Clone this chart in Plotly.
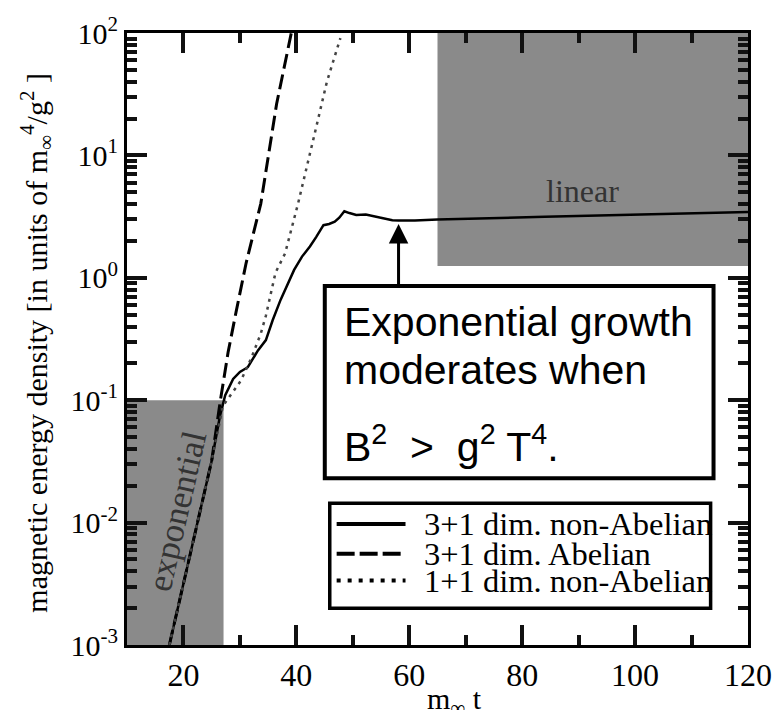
import plotly.graph_objects as go
import numpy as np

# ---- data ----
solid_x = [17.5, 20, 22.5, 25, 26.5, 27.4, 28.8, 30.0, 31.4, 33.2, 34.6, 35.8, 37.2, 38.5, 39.6,
           41.0, 42.4, 43.5, 44.8, 45.8, 46.8, 47.6, 48.5, 49.4, 50.6, 52.3, 53.5, 55.2, 57.0,
           58.1, 61, 65, 70, 76, 84, 92, 101.6, 110, 120]
solid_y = [1.0e-3, 3.2e-3, 1.0e-2, 3.2e-2, 0.0755, 0.11, 0.149, 0.17, 0.186, 0.255, 0.31, 0.45,
           0.66, 0.9, 1.16, 1.49, 1.8, 2.15, 2.69, 2.75, 2.87, 3.1, 3.5, 3.38, 3.26, 3.29, 3.2,
           3.05, 2.95, 2.94, 2.94, 2.99, 3.02, 3.08, 3.16, 3.22, 3.3, 3.37, 3.45]

abel_x = [17.5, 20, 22.5, 25, 26.5, 27.9, 29.3, 31.1, 33.7, 36.5, 39.1]
abel_y = [1.0e-3, 3.2e-3, 1.0e-2, 3.2e-2, 0.097, 0.245, 0.52, 1.32, 4.04, 26.3, 100]

dim1_x = [17.5, 20, 22.5, 25, 27.0, 29.1, 30.2, 32.0, 33.7, 34.6, 35.5, 36.3, 38.0, 40.3,
          43.1, 45.4, 47.8]
dim1_y = [1.0e-3, 3.2e-3, 1.0e-2, 3.2e-2, 0.09, 0.124, 0.145, 0.22, 0.35, 0.49, 0.76, 1.1,
          1.58, 4.04, 14.1, 39.8, 91]

series_names = ["3+1 dim. non-Abelian", "3+1 dim. Abelian", "1+1 dim. non-Abelian"]

X_RANGE = [10, 120]
Y_RANGE_LOG = [-3, 2]
y_tickvals = [1e-3, 1e-2, 1e-1, 1e0, 1e1, 1e2]
y_ticktext = ["10<sup>-3</sup>", "10<sup>-2</sup>", "10<sup>-1</sup>",
              "10<sup>0</sup>", "10<sup>1</sup>", "10<sup>2</sup>"]
y_minor = [m * 10.0 ** e for e in range(-3, 2) for m in range(2, 10)]

SERIF = "Liberation Serif, Times New Roman, serif"
SANS = "Liberation Sans, Arial, sans-serif"
TICKC = "#111111"

fig = go.Figure()

GRAY = "#8a8a8a"
fig.add_shape(type="rect", xref="x", yref="y", x0=10, x1=27.1, y0=1e-3, y1=0.1,
              fillcolor=GRAY, line=dict(width=0), layer="below")
fig.add_shape(type="rect", xref="x", yref="y", x0=65, x1=120, y0=1.25, y1=100,
              fillcolor=GRAY, line=dict(width=0), layer="below")

fig.add_trace(go.Scatter(x=solid_x, y=solid_y, mode="lines", name=series_names[0],
                         line=dict(color="black", width=2.5), showlegend=False))
fig.add_trace(go.Scatter(x=abel_x, y=abel_y, mode="lines", name=series_names[1],
                         line=dict(color="black", width=3, dash="15px,6px"), showlegend=False))
fig.add_trace(go.Scatter(x=dim1_x, y=dim1_y, mode="lines", name=series_names[2],
                         line=dict(color="#444444", width=2.5, dash="3px,5px"), showlegend=False))

# annotation box
fig.add_shape(type="rect", xref="paper", yref="paper", x0=0.3185, x1=0.9445,
              y0=0.2723, y1=0.5867, fillcolor="white", line=dict(color="black", width=4))

# legend box (drawn by hand to match the tight row spacing)
fig.add_shape(type="rect", xref="paper", yref="paper", x0=0.3265, x1=0.9398,
              y0=0.060, y1=0.2318, fillcolor="white", line=dict(color="black", width=3.5))
leg_y = [0.1977, 0.1491, 0.1053]
leg_dash = ["solid", "18px,5px", "4px,7px"]
ann = []
for name, yy, dsh in zip(series_names, leg_y, leg_dash):
    fig.add_shape(type="line", xref="paper", yref="paper", x0=0.3376, x1=0.4485,
                  y0=yy, y1=yy, line=dict(color="black", width=4, dash=dsh))
    ann.append(dict(x=0.4754, y=yy, xref="paper", yref="paper", xanchor="left",
                    yanchor="middle", text=name, showarrow=False,
                    font=dict(family=SERIF, size=32.5, color="black")))

ann.append(dict(x=58.1, y=np.log10(2.75), xref="x", yref="y", text="", showarrow=True,
                ax=0, ay=63, axref="pixel", ayref="pixel", arrowhead=2, arrowsize=1.3,
                arrowwidth=3, arrowcolor="black"))
box_lines = ["Exponential growth", "moderates when", "B<sup>2</sup>  >  g<sup>2</sup> T<sup>4</sup>."]
box_y = [0.527, 0.449, 0.329]
for t, yy in zip(box_lines, box_y):
    ann.append(dict(x=0.347, y=yy, xref="paper", yref="paper", xanchor="left",
                    yanchor="middle", text=t, showarrow=False,
                    font=dict(family=SANS, size=41, color="black")))
ann.append(dict(x=18.8, y=-1.906, xref="x", yref="y", text="exponential",
                textangle=-77, showarrow=False, font=dict(family=SERIF, size=35, color="#333333")))
ann.append(dict(x=90.7, y=np.log10(5.1), xref="x", yref="y", text="linear",
                showarrow=False, font=dict(family=SERIF, size=32, color="#333333")))
ann.append(dict(x=-0.145, y=0.494, xref="paper", yref="paper", textangle=-90,
                xanchor="center", yanchor="middle",
                text="magnetic energy density [in units of m<sub>∞</sub><sup>4</sup>/g<sup>2</sup> ]",
                showarrow=False, font=dict(family=SERIF, size=30, color="black")))
ann.append(dict(x=0.528, y=-0.058, xref="paper", yref="paper", yanchor="top",
                text="m<sub>∞</sub> t", showarrow=False,
                font=dict(family=SERIF, size=30, color="black")))

fig.update_layout(
    width=784, height=710,
    margin=dict(l=127, r=26, t=28, b=65),
    paper_bgcolor="white", plot_bgcolor="white",
    annotations=ann,
    showlegend=False,
)
fig.update_xaxes(range=X_RANGE, showgrid=False, zeroline=False,
                 showline=True, linecolor="black", linewidth=3, mirror="allticks",
                 ticks="inside", ticklen=20, tickwidth=4, tickcolor=TICKC,
                 tick0=0, dtick=20, layer="above traces",
                 minor=dict(ticks="inside", ticklen=10, tickwidth=4, tickcolor=TICKC, dtick=10),
                 tickfont=dict(family=SERIF, size=32, color="black"))
fig.update_yaxes(type="log", range=Y_RANGE_LOG, showgrid=False, zeroline=False,
                 showline=True, linecolor="black", linewidth=3, mirror="allticks",
                 ticks="inside", ticklen=20, tickwidth=4, tickcolor=TICKC,
                 tickvals=y_tickvals, ticktext=y_ticktext, layer="above traces",
                 minor=dict(ticks="inside", ticklen=10, tickwidth=4, tickcolor=TICKC, tickvals=y_minor),
                 tickfont=dict(family=SERIF, size=30, color="black"))

fig.write_html("out.html")
